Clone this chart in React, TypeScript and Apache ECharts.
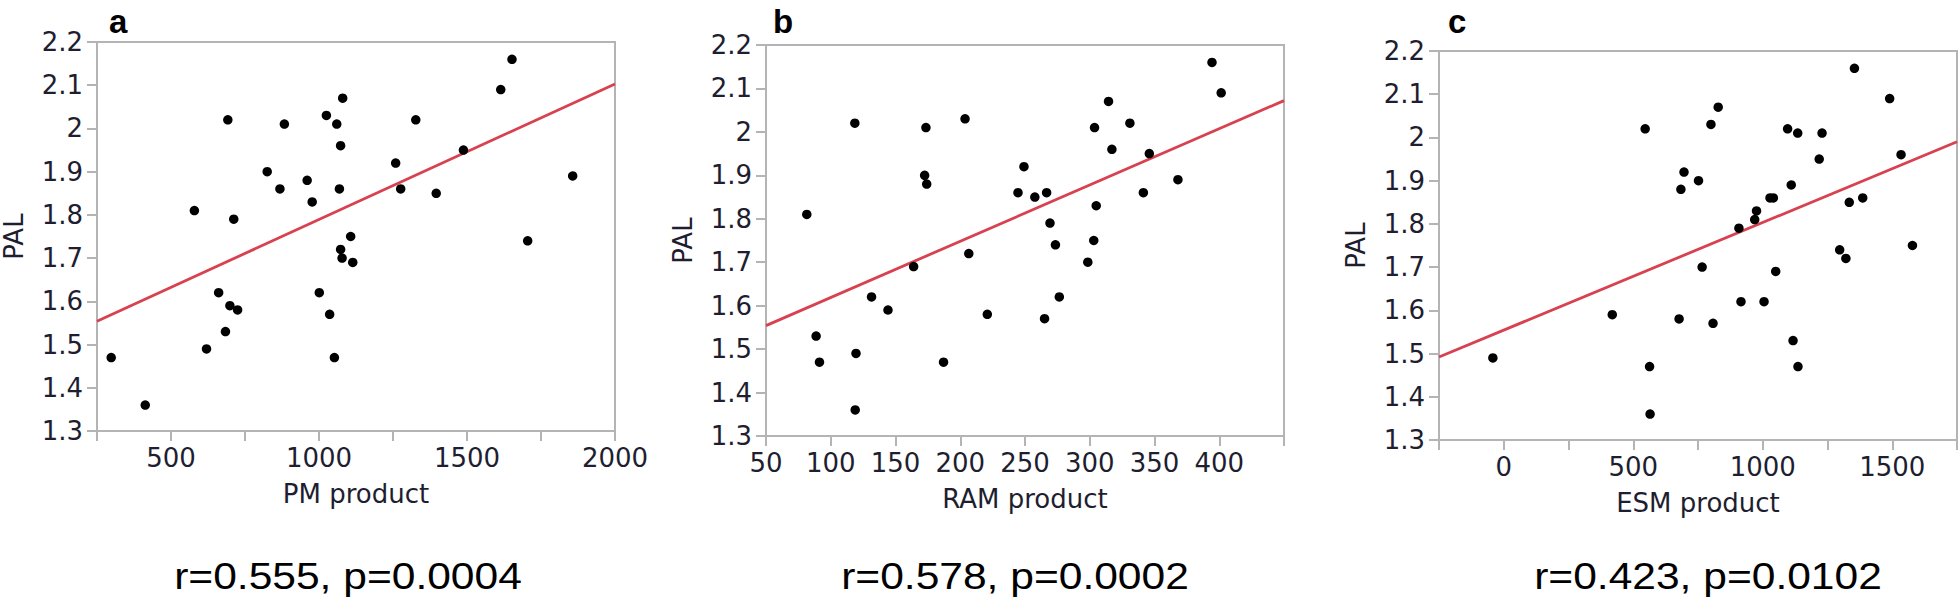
import React, { useEffect, useRef } from "react";
import * as echarts from "echarts";

// Panel a: PM product vs PAL
const pmX = [298, 413, 579, 620, 661, 684, 692, 699, 712, 725, 825, 868, 883, 960, 977, 1001, 1025, 1036, 1052, 1060, 1069, 1073, 1073, 1078, 1080, 1107, 1114, 1259, 1276, 1327, 1396, 1488, 1614, 1652, 1705, 1857];
const pmY = [1.47, 1.36, 1.81, 1.49, 1.62, 1.53, 2.02, 1.59, 1.79, 1.58, 1.90, 1.86, 2.01, 1.88, 1.83, 1.62, 2.03, 1.57, 1.47, 2.01, 1.86, 1.96, 1.72, 1.70, 2.07, 1.75, 1.69, 1.92, 1.86, 2.02, 1.85, 1.95, 2.09, 2.16, 1.74, 1.89];
const pmFit = [[250, 1.554], [2000, 2.103]];

// Panel b: RAM product vs PAL
const ramX = [81.5, 88.7, 91.3, 118.6, 119.5, 118.9, 131.5, 144.2, 164.0, 172.5, 173.5, 174.1, 187.1, 203.7, 206.6, 220.9, 244.6, 249.2, 257.6, 265.1, 266.7, 269.3, 273.5, 276.5, 298.5, 303.1, 303.7, 305.0, 314.5, 317.1, 331.0, 341.4, 346.0, 368.1, 394.4, 401.5];
const ramY = [1.81, 1.53, 1.47, 2.02, 1.49, 1.36, 1.62, 1.59, 1.69, 1.90, 2.01, 1.88, 1.47, 2.03, 1.72, 1.58, 1.86, 1.92, 1.85, 1.57, 1.86, 1.79, 1.74, 1.62, 1.70, 1.75, 2.01, 1.83, 2.07, 1.96, 2.02, 1.86, 1.95, 1.89, 2.16, 2.09];
const ramFit = [[50, 1.554], [450, 2.072]];

// Panel c: ESM product vs PAL
const esmX = [-42, 419, 546, 563, 565, 677, 684, 696, 752, 766, 800, 808, 828, 908, 916, 969, 976, 1005, 1028, 1041, 1050, 1096, 1110, 1117, 1135, 1136, 1218, 1229, 1297, 1321, 1334, 1354, 1386, 1490, 1534, 1578];
const esmY = [1.49, 1.59, 2.02, 1.47, 1.36, 1.58, 1.88, 1.92, 1.90, 1.70, 2.03, 1.57, 2.07, 1.79, 1.62, 1.81, 1.83, 1.62, 1.86, 1.86, 1.69, 2.02, 1.89, 1.53, 2.01, 1.47, 1.95, 2.01, 1.74, 1.72, 1.85, 2.16, 1.86, 2.09, 1.96, 1.75];
const esmFit = [[-250, 1.492], [1750, 1.990]];

const panelLetters = ["a", "b", "c"];
const xNames = ["PM product", "RAM product", "ESM product"];
const yName = "PAL";
const captions = ["r=0.555, p=0.0004", "r=0.578, p=0.0002", "r=0.423, p=0.0102"];
const xMins = [250, 50, -250];
const xMaxs = [2000, 450, 1750];
const xIntervals = [250, 50, 250];
const yMin = 1.3;
const yMax = 2.2;
const yInterval = 0.1;

const grids = [
  { left: 95, top: 42, width: 520, height: 389 },
  { left: 766, top: 45, width: 518, height: 391 },
  { left: 1439, top: 51, width: 519, height: 389 },
];
const letterPos = [
  { x: 109, y: 21 },
  { x: 773, y: 21 },
  { x: 1448, y: 21 },
];
const captionPos = [
  { x: 348, y: 576 },
  { x: 1015, y: 576 },
  { x: 1708, y: 576 },
];

const tickFont = "'DejaVu Sans', Verdana, sans-serif";
const axisGray = "#b4b4b4";
const textColor = "#1e1e30";
const fitColor = "#d8414f";

function xLabelFormatter(panel: number) {
  return (v: number) => {
    if (panel === 1) return v === 450 ? "" : String(v);
    return Math.round(v) % 500 === 0 ? String(v) : "";
  };
}

export default function App() {
  const ref = useRef<HTMLDivElement>(null);
  useEffect(() => {
    if (!ref.current) return;
    const chart = echarts.init(ref.current, undefined, { renderer: "svg" });
    const xs = [pmX, ramX, esmX];
    const ys = [pmY, ramY, esmY];
    const fits = [pmFit, ramFit, esmFit];

    const option: any = {
      animation: false,
      backgroundColor: "#ffffff",
      grid: grids.map((g) => ({
        ...g,
        show: true,
        borderColor: axisGray,
        borderWidth: 2,
        backgroundColor: "transparent",
        containLabel: false,
      })),
      xAxis: [0, 1, 2].map((i) => ({
        type: "value",
        gridIndex: i,
        min: xMins[i],
        max: xMaxs[i],
        interval: xIntervals[i],
        name: xNames[i],
        nameLocation: "middle",
        nameGap: 50,
        nameTextStyle: { fontFamily: tickFont, fontSize: 26, color: textColor },
        axisLine: { show: true, onZero: false, lineStyle: { color: axisGray, width: 2 } },
        axisTick: { show: true, length: 10, lineStyle: { color: axisGray, width: 2 } },
        axisLabel: {
          show: true,
          margin: 14,
          fontFamily: tickFont,
          fontSize: 26,
          color: textColor,
          formatter: xLabelFormatter(i),
          showMinLabel: true,
          showMaxLabel: true,
        },
        splitLine: { show: false },
      })),
      yAxis: [0, 1, 2].map((i) => ({
        type: "value",
        gridIndex: i,
        min: yMin,
        max: yMax,
        interval: yInterval,
        name: yName,
        nameLocation: "middle",
        nameGap: 70,
        nameRotate: 90,
        nameTextStyle: { fontFamily: tickFont, fontSize: 26, color: textColor },
        axisLine: { show: true, onZero: false, lineStyle: { color: axisGray, width: 2 } },
        axisTick: { show: true, length: 10, lineStyle: { color: axisGray, width: 2 } },
        axisLabel: {
          show: true,
          margin: 14,
          fontFamily: tickFont,
          fontSize: 26,
          color: textColor,
        },
        splitLine: { show: false },
      })),
      series: [
        ...[0, 1, 2].map((i) => ({
          type: "line",
          xAxisIndex: i,
          yAxisIndex: i,
          data: fits[i],
          symbol: "none",
          silent: true,
          clip: true,
          lineStyle: { color: fitColor, width: 2.8 },
          z: 2,
        })),
        ...[0, 1, 2].map((i) => ({
          type: "scatter",
          xAxisIndex: i,
          yAxisIndex: i,
          data: xs[i].map((x, k) => [x, ys[i][k]]),
          symbol: "circle",
          symbolSize: 9.5,
          itemStyle: { color: "#000000", opacity: 1 },
          z: 3,
        })),
      ],
      graphic: [
        ...panelLetters.map((t, i) => ({
          type: "text",
          x: letterPos[i].x,
          y: letterPos[i].y,
          style: {
            text: t,
            fontFamily: "'Liberation Sans', Arial, sans-serif",
            fontWeight: "bold",
            fontSize: 33,
            fill: "#000000",
            align: "left",
            verticalAlign: "middle",
          },
        })),
        ...captions.map((t, i) => ({
          type: "text",
          x: captionPos[i].x,
          y: captionPos[i].y,
          scaleX: 1.15,
          style: {
            text: t,
            fontFamily: "'Liberation Sans', Arial, sans-serif",
            fontSize: 37,
            fill: "#000000",
            align: "center",
            verticalAlign: "middle",
          },
        })),
      ],
    };
    chart.setOption(option);
    return () => chart.dispose();
  }, []);
  return (
    <div
      ref={ref}
      style={{ position: "absolute", left: 0, top: 0, width: 1960, height: 599 }}
    />
  );
}
